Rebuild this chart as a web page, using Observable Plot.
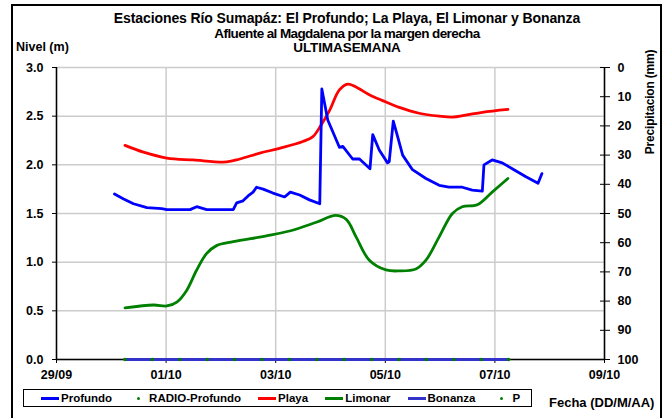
<!DOCTYPE html>
<html>
<head>
<meta charset="utf-8">
<script src="https://cdn.jsdelivr.net/npm/d3@7"></script>
<script src="https://cdn.jsdelivr.net/npm/@observablehq/plot@0.6"></script>
<style>
  html, body { margin: 0; padding: 0; background: #fff; }
  #chart { position: relative; width: 671px; height: 418px; overflow: hidden; background: #fff;
           font-family: "Liberation Sans", Arial, sans-serif; font-weight: bold; color: #000; }
  #chart svg { position: absolute; left: 0; top: 0; }
  .abs { position: absolute; white-space: nowrap; line-height: 1; }
  .title { left: 0; width: 694px; text-align: center; font-size: 12px; letter-spacing: -0.2px; }
  #frame { position: absolute; left: 11px; top: 4px; width: 651px; height: 430px; border: 2.5px solid #000; box-sizing: border-box; }
  #legend { position: absolute; left: 23px; top: 389px; width: 509px; height: 18px; border: 1px solid #000; box-sizing: border-box;
            display: flex; align-items: center; padding-left: 17px; gap: 17px; font-size: 11.5px; background: #fff; }
  .item { display: flex; align-items: center; }
  .sw { width: 18px; height: 10px; position: relative; margin-right: 2px; }
  .sw .ln { position: absolute; left: 0; right: 0; top: 4px; height: 3px; }
  .sw .dt { position: absolute; left: 7.5px; top: 3.5px; width: 3.5px; height: 3.5px; border-radius: 50%; }
</style>
</head>
<body>
<div id="chart"></div>
<script>
// ---- Data (hours since 29/09 00:00) ----
const baseDay = Date.UTC(2013, 8, 29);
const titleLines = [
  "Estaciones Río Sumapáz: El Profundo; La Playa, El Limonar y Bonanza",
  "Afluente al Magdalena por la margen derecha",
  "ULTIMA SEMANA"
];
const xTickLabels = ["29/09", "01/10", "03/10", "05/10", "07/10", "09/10"];
const yTicks = [0, 0.5, 1.0, 1.5, 2.0, 2.5, 3.0];
const precipTicks = [0, 10, 20, 30, 40, 50, 60, 70, 80, 90, 100];

const profundoHours = [25.4, 29.4, 33.7, 39.6, 46.1, 48.3, 58.5, 61.4, 65.8, 77.4, 78.9, 81.7, 83.9, 86.1, 87.6,
  90.5, 94.8, 99.9, 102.4, 106.5, 110.8, 115.3, 116.2, 118.8, 121.0, 123.9, 125.4, 129.7, 132.7, 137.3, 138.5,
  141.4, 145.0, 145.7, 147.5, 149.4, 151.6, 155.9, 161.8, 167.6, 171.9, 177.7, 182.1, 186.5, 187.2, 190.8,
  195.2, 199.6, 205.4, 210.9, 212.6];
const profundoLevel = [1.70, 1.65, 1.60, 1.56, 1.55, 1.54, 1.54, 1.57, 1.54, 1.54, 1.61, 1.63, 1.68, 1.72, 1.77,
  1.75, 1.71, 1.67, 1.72, 1.69, 1.64, 1.60, 2.78, 2.46, 2.34, 2.18, 2.19, 2.06, 2.06, 1.96, 2.31,
  2.15, 2.02, 2.03, 2.45, 2.29, 2.10, 1.95, 1.86, 1.79, 1.77, 1.77, 1.74, 1.73, 2.00, 2.05,
  2.02, 1.96, 1.88, 1.81, 1.91];

const playaHours = [30, 38.1, 48.3, 59.9, 74.5, 80.3, 89.0, 97.7, 107.9, 112.3, 115.9, 119.6, 123.9, 127.6,
  131.9, 137.0, 142.8, 150.1, 158.8, 167.6, 173.4, 179.2, 186.5, 197.7];
const playaLevel = [2.20, 2.13, 2.07, 2.05, 2.03, 2.06, 2.12, 2.17, 2.24, 2.29, 2.41, 2.56, 2.77, 2.83,
  2.79, 2.72, 2.66, 2.59, 2.53, 2.50, 2.49, 2.51, 2.54, 2.57];

const limonarHours = [30, 42.5, 48.3, 52.7, 57.0, 61.4, 65.8, 70.1, 77.4, 91.9, 102.1, 113.8, 122.2, 126.9,
  131.2, 137.0, 144.3, 150.1, 157.4, 161.8, 167.6, 173.4, 177.7, 184.3, 190.8, 197.7];
const limonarLevel = [0.53, 0.56, 0.55, 0.59, 0.71, 0.92, 1.09, 1.17, 1.21, 1.27, 1.32, 1.41, 1.48, 1.44,
  1.26, 1.02, 0.92, 0.91, 0.93, 1.02, 1.26, 1.50, 1.57, 1.59, 1.72, 1.86];

const bonanzaHours = [30, 198];
const bonanzaLevel = [0, 0];

const radioHours = [30, 42, 54, 66, 78, 90, 102, 114, 126, 138, 150, 162, 174, 186, 198];
const radioLevel = [0, 0, 0, 0, 0, 0, 0, 0, 0, 0, 0, 0, 0, 0, 0];

const legendNames = ["Profundo", "RADIO-Profundo", "Playa", "Limonar", "Bonanza", "P"];
const legendKinds = ["line", "dot", "line", "line", "line", "dot"];
const legendColors = ["#0000ff", "#008000", "#ff0000", "#008000", "#3333cc", "#008000"];

// ---- Build ----
const toDate = h => new Date(baseDay + h * 3600e3);
const series = (hours, vals) => hours.map((h, i) => ({t: toDate(h), v: vals[i]}));
const profundo = series(profundoHours, profundoLevel);
const playa = series(playaHours, playaLevel);
const limonar = series(limonarHours, limonarLevel);
const bonanza = series(bonanzaHours, bonanzaLevel);
const radio = series(radioHours, radioLevel);
const parseTick = s => { const [d, m] = s.split("/").map(Number); return new Date(Date.UTC(2013, m - 1, d)); };
const xTicks = xTickLabels.map(parseTick);
const xDomain = [xTicks[0], xTicks[xTicks.length - 1]];
const precipToLevel = p => 3 * (1 - p / 100);
const precipPos = precipTicks.map(precipToLevel);
const fmtX = d3.utcFormat("%d/%m");

const plot = Plot.plot({
  width: 671, height: 418,
  marginLeft: 56, marginRight: 67, marginTop: 67, marginBottom: 59,
  style: {fontFamily: "'Liberation Sans', Arial, sans-serif", fontSize: "12.5px", fontWeight: "bold", color: "#000", background: "transparent"},
  x: {type: "utc", domain: xDomain},
  y: {domain: [0, 3]},
  marks: [
    Plot.ruleX(xTicks, {stroke: "#cccccc", strokeWidth: 1.5}),
    Plot.ruleY(yTicks, {stroke: "#cccccc", strokeWidth: 1.5}),
    Plot.axisY({ticks: yTicks, tickFormat: d3.format(".1f"), tickSize: 4, tickPadding: 9, label: null, fontSize: 12.5}),
    Plot.axisY({anchor: "right", ticks: precipPos, tickSize: 10, dx: -5, tickPadding: 8, label: null, fontSize: 12.5,
      tickFormat: v => String(Math.round((1 - v / 3) * 100))}),
    Plot.axisX({ticks: xTicks, tickFormat: fmtX, tickSize: 4, tickPadding: 7, label: null, fontSize: 12.5}),
    Plot.ruleX([xDomain[0], xDomain[1]], {stroke: "#000", strokeWidth: 1.5}),
    Plot.ruleY([0], {stroke: "#000", strokeWidth: 1.5}),
    Plot.line(playa, {x: "t", y: "v", stroke: "#ff0000", strokeWidth: 2.8, curve: "catmull-rom"}),
    Plot.line(limonar, {x: "t", y: "v", stroke: "#008000", strokeWidth: 2.8, curve: "catmull-rom"}),
    Plot.line(profundo, {x: "t", y: "v", stroke: "#0000ff", strokeWidth: 2.8, strokeLinejoin: "round"}),
    Plot.line(bonanza, {x: "t", y: "v", stroke: "#3333cc", strokeWidth: 2.8}),
    Plot.dot(radio, {x: "t", y: "v", r: 1.8, fill: "#008000", stroke: null})
  ]
});

const chart = document.getElementById("chart");
chart.appendChild(plot);

const tops = [11, 26.5, 40.5];
const sizes = [14, 13.5, 13.5];
const spacing = ["-0.1px", "-0.6px", "-0.1px"];
titleLines.forEach((t, i) => {
  const d = document.createElement("div");
  d.className = "abs title";
  d.style.top = tops[i] + "px";
  d.style.fontSize = sizes[i] + "px";
  d.style.letterSpacing = spacing[i];
  if (i === 2) d.style.wordSpacing = "-3px";
  d.textContent = t;
  chart.appendChild(d);
});

const nivel = document.createElement("div");
nivel.className = "abs";
nivel.style.cssText = "left:16px; top:41px; font-size:12.5px;";
nivel.textContent = "Nivel (m)";
chart.appendChild(nivel);

const precip = document.createElement("div");
precip.className = "abs";
precip.style.cssText = "left:650px; top:102px; font-size:12px; transform: translate(-50%,-50%) rotate(-90deg); letter-spacing:-0.2px;";
precip.textContent = "Precipitacion (mm)";
chart.appendChild(precip);

const fecha = document.createElement("div");
fecha.className = "abs";
fecha.style.cssText = "left:549px; top:396px; font-size:13px;";
fecha.textContent = "Fecha (DD/M/AA)";
chart.appendChild(fecha);

const legend = document.createElement("div");
legend.id = "legend";
legendNames.forEach((n, i) => {
  const it = document.createElement("div");
  it.className = "item";
  const sw = document.createElement("div");
  sw.className = "sw";
  const mk = document.createElement("div");
  mk.className = legendKinds[i] === "line" ? "ln" : "dt";
  mk.style.background = legendColors[i];
  sw.appendChild(mk);
  const tx = document.createElement("span");
  tx.textContent = n;
  it.appendChild(sw); it.appendChild(tx);
  legend.appendChild(it);
});
chart.appendChild(legend);

const frame = document.createElement("div");
frame.id = "frame";
chart.appendChild(frame);
</script>
</body>
</html>
